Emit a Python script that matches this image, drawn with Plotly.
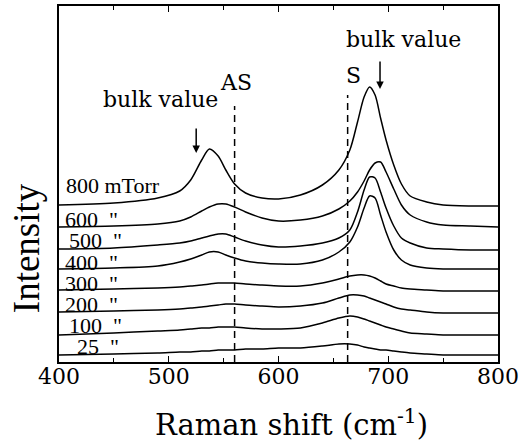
import plotly.graph_objects as go

# Raman shift sample points (cm^-1), shared by every spectrum
raman_shift = [400, 450, 490, 510, 520, 530, 537, 545, 552, 560, 570, 585, 600, 620, 640,
               655, 665, 672, 678, 683, 688, 693, 698, 705, 712, 720, 735, 750, 775, 800]

# Intensity (arb. units, vertically offset) for each oxygen pressure
i_800 = [157, 159, 164, 171, 182, 202, 213, 206, 192, 178, 169, 164, 163, 167, 177,
         192, 212, 240, 265, 275, 267, 244, 222, 197, 178, 166, 160, 157, 156, 156]
i_600 = [135, 136, 138, 141, 145, 151, 155, 158, 158, 155, 150, 144, 141, 142, 146,
         153, 161, 170, 181, 192, 199, 200, 190, 173, 157, 147, 140, 137, 136, 135]
i_500 = [113, 114, 117, 119, 121, 124, 126, 128, 128, 125, 121, 117, 115, 116, 119,
         124, 132, 150, 172, 185, 184, 170, 154, 136, 124, 119, 114, 113, 112, 112]
i_400 = [93, 94, 96, 100, 103, 107, 110, 110, 107, 104, 101, 99, 98, 98, 102,
         110, 120, 135, 154, 166, 164, 147, 130, 112, 102, 97, 94, 93, 93, 93]
i_300 = [72, 73, 74, 75, 76, 77, 78, 79, 79, 79, 78, 77, 76, 76, 79,
         83, 86, 87, 87, 86, 84, 81, 78, 76, 74, 73, 72, 71, 71, 71]
i_200 = [50, 51, 52, 53, 54, 55, 56, 57, 58, 58, 57, 56, 55, 56, 59,
         64, 67, 67, 66, 64, 62, 60, 58, 55, 53, 52, 50, 49, 49, 49]
i_100 = [27, 29, 31, 32, 33, 34, 34, 35, 35, 35, 34, 33, 33, 34, 39,
         44, 46, 45, 43, 41, 39, 37, 35, 33, 31, 29, 28, 27, 27, 27]
i_25 = [7, 8, 9, 10, 10, 11, 11, 12, 12, 12, 13, 13, 14, 14, 16,
        18, 18, 17, 15, 14, 13, 12, 12, 11, 10, 9, 8, 7, 7, 7]

spectra = [i_800, i_600, i_500, i_400, i_300, i_200, i_100, i_25]
pressure_labels = ["800 mTorr", "600", "500", "400", "300", "200", "100", "25"]
# label centre heights (intensity units) and left offsets (px)
label_y = [177, 143, 122, 100, 79, 58, 37, 16]
label_dx = [5, 4, 8, 4, 4, 4, 8, 16]

# reference phonon positions (cm^-1)
as_mode = 560
s_mode = 663
bulk_as = 525
bulk_s = 692.5

SERIF = "Liberation Serif, Times New Roman, serif"
WIDE = "DejaVu Serif, serif"

fig = go.Figure()
for ys in spectra:
    fig.add_trace(go.Scatter(x=raman_shift, y=ys, mode="lines",
                             line=dict(color="black", width=1.5, shape="spline", smoothing=0.8),
                             showlegend=False, hoverinfo="skip"))

# dashed guide lines for the AS and S modes
for xm, ytop in [(as_mode, 256), (s_mode, 267)]:
    fig.add_trace(go.Scatter(x=[xm, xm], y=[0, ytop], mode="lines",
                             line=dict(color="black", width=1.5, dash="7px,5px"),
                             showlegend=False, hoverinfo="skip"))

ann = []
for txt, yv, dx in zip(pressure_labels, label_y, label_dx):
    if txt != "800 mTorr":
        txt = txt + "\u00a0\u00a0\""
    ann.append(dict(x=400, y=yv, xref="x", yref="y", text=txt, showarrow=False,
                    xanchor="left", yanchor="middle", xshift=dx,
                    font=dict(family=SERIF, size=22, color="black")))

ann += [
    dict(x=492.6, y=263, xref="x", yref="y", text="bulk value", showarrow=False,
         xanchor="center", yanchor="middle", font=dict(family=WIDE, size=22, color="black")),
    dict(x=714.3, y=323, xref="x", yref="y", text="bulk value", showarrow=False,
         xanchor="center", yanchor="middle", font=dict(family=WIDE, size=22, color="black")),
    dict(x=561.7, y=280, xref="x", yref="y", text="AS", showarrow=False,
         xanchor="center", yanchor="middle", font=dict(family=WIDE, size=22, color="black")),
    dict(x=668, y=287, xref="x", yref="y", text="S", showarrow=False,
         xanchor="center", yanchor="middle", font=dict(family=WIDE, size=22, color="black")),
    # bulk-value arrows
    dict(x=bulk_as, y=209, ax=bulk_as, ay=235, xref="x", yref="y", axref="x", ayref="y",
         text="", showarrow=True, arrowhead=2, arrowsize=1, arrowwidth=1.5, arrowcolor="black"),
    dict(x=bulk_s, y=273, ax=bulk_s, ay=302, xref="x", yref="y", axref="x", ayref="y",
         text="", showarrow=True, arrowhead=2, arrowsize=1, arrowwidth=1.5, arrowcolor="black"),
    # axis titles
    dict(x=611.4, y=-0.171, xref="x", yref="paper", text="Raman shift (cm<sup>-1</sup>)",
         showarrow=False, xanchor="center", yanchor="middle",
         font=dict(family=WIDE, size=29, color="black")),
    dict(x=-0.075, y=0.32, xref="paper", yref="paper", text="Intensity", textangle=-90,
         showarrow=False, xanchor="center", yanchor="middle",
         font=dict(family=SERIF, size=37, color="black")),
]

fig.update_layout(
    width=520, height=445,
    margin=dict(l=59, r=22, t=6, b=83, autoexpand=False),
    paper_bgcolor="white", plot_bgcolor="white",
    annotations=ann,
    xaxis=dict(range=[400, 800], dtick=100, tick0=400, ticks="inside", ticklen=6, tickwidth=1.3,
               tickcolor="black", showline=True, linecolor="black", linewidth=1.5, mirror="ticks",
               showgrid=False, zeroline=False, automargin=False, ticklabelstandoff=-6,
               minor=dict(dtick=50, ticks="inside", ticklen=4, tickwidth=1.2, tickcolor="black",
                          showgrid=False),
               tickfont=dict(family=WIDE, size=22, color="black")),
    yaxis=dict(range=[0, 356], showticklabels=False, ticks="", showline=True, linecolor="black",
               linewidth=1.5, mirror=True, showgrid=False, zeroline=False, automargin=False),
)

fig.write_html("out.html")
